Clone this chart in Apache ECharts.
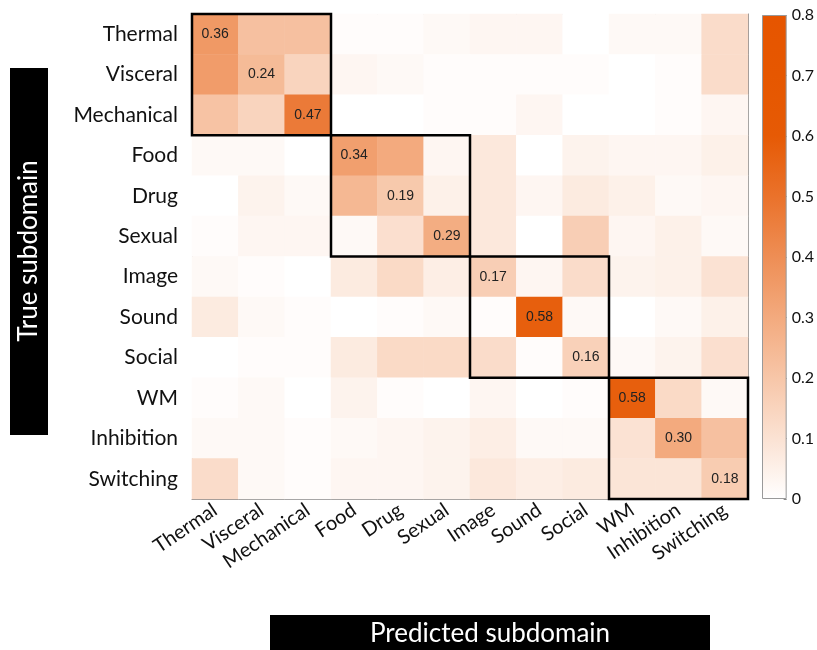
<!DOCTYPE html>
<html>
<head>
<meta charset="utf-8">
<script src="https://cdn.jsdelivr.net/npm/echarts@6/dist/echarts.min.js"></script>
<style>
  html, body { margin: 0; padding: 0; background: #fff; }
  #main { width: 817px; height: 650px; }
</style>
</head>
<body>
<div id="main"></div>
<script>
var subdomains = ['Thermal', 'Visceral', 'Mechanical', 'Food', 'Drug', 'Sexual',
  'Image', 'Sound', 'Social', 'WM', 'Inhibition', 'Switching'];

// rows = true subdomain, columns = predicted subdomain
var confusion = [
  [0.36, 0.22, 0.22, 0.01, 0.01, 0.02, 0.03, 0.03, 0.00, 0.02, 0.02, 0.12],
  [0.35, 0.24, 0.15, 0.03, 0.02, 0.01, 0.01, 0.01, 0.01, 0.00, 0.01, 0.12],
  [0.21, 0.15, 0.47, 0.00, 0.00, 0.01, 0.01, 0.03, 0.00, 0.00, 0.01, 0.03],
  [0.02, 0.02, 0.00, 0.34, 0.30, 0.03, 0.08, 0.00, 0.04, 0.03, 0.03, 0.05],
  [0.00, 0.04, 0.02, 0.25, 0.19, 0.05, 0.08, 0.03, 0.07, 0.05, 0.02, 0.03],
  [0.01, 0.03, 0.03, 0.02, 0.11, 0.29, 0.08, 0.00, 0.17, 0.03, 0.05, 0.02],
  [0.02, 0.01, 0.00, 0.07, 0.13, 0.06, 0.17, 0.03, 0.12, 0.04, 0.05, 0.10],
  [0.07, 0.02, 0.01, 0.00, 0.01, 0.02, 0.01, 0.58, 0.02, 0.00, 0.02, 0.05],
  [0.00, 0.01, 0.01, 0.07, 0.13, 0.13, 0.12, 0.01, 0.16, 0.02, 0.04, 0.11],
  [0.01, 0.02, 0.00, 0.04, 0.01, 0.00, 0.03, 0.00, 0.01, 0.58, 0.13, 0.02],
  [0.02, 0.02, 0.01, 0.02, 0.03, 0.04, 0.06, 0.02, 0.02, 0.10, 0.30, 0.22],
  [0.12, 0.02, 0.01, 0.03, 0.03, 0.04, 0.08, 0.06, 0.07, 0.09, 0.09, 0.18]
];

// diagonal domain blocks: [first index, last index]
var blocks = [[0, 2], [3, 5], [6, 8], [9, 11]];

var scaleTicks = [0, 0.1, 0.2, 0.3, 0.4, 0.5, 0.6, 0.7, 0.8];
var scaleColors = ['#ffffff', '#fbe2d3', '#f7c6a8', '#f3aa7e', '#ee8e55',
  '#ea722b', '#e65a05', '#e65700', '#e65500'];

var cells = [];
for (var i = 0; i < confusion.length; i++) {
  for (var j = 0; j < confusion[i].length; j++) {
    cells.push({ value: [j, i, confusion[i][j]], label: { show: i === j } });
  }
}

var gradStops = scaleColors.map(function (c, k) {
  return { offset: 1 - k / (scaleColors.length - 1), color: c };
});

var chart = echarts.init(document.getElementById('main'));

var boxColor = '#8a8a8a';
var option = {
  animation: false,
  grid: [
    { left: 192, right: 69, top: 14, bottom: 151 },
    { left: 762, width: 31, top: 15, bottom: 151 }
  ],
  xAxis: [
    {
      type: 'category', data: subdomains, gridIndex: 0, position: 'bottom',
      axisLine: { lineStyle: { color: boxColor } },
      axisTick: { inside: true, alignWithLabel: true, length: 4, lineStyle: { color: '#555' } },
      axisLabel: { rotate: 34, margin: 9, fontFamily: 'Lato', fontSize: 20, color: '#111', interval: 0 },
      splitLine: { show: false }
    },
    {
      type: 'category', data: subdomains, gridIndex: 0, position: 'top',
      axisLine: { lineStyle: { color: boxColor } },
      axisTick: { inside: true, alignWithLabel: true, length: 4, lineStyle: { color: '#555' } },
      axisLabel: { show: false }
    },
    {
      type: 'category', data: ['scale'], gridIndex: 1, show: false
    }
  ],
  yAxis: [
    {
      type: 'category', data: subdomains, gridIndex: 0, inverse: true, position: 'left',
      axisLine: { lineStyle: { color: boxColor } },
      axisTick: { inside: true, alignWithLabel: true, length: 4, lineStyle: { color: '#555' } },
      axisLabel: { margin: 14, fontFamily: 'Lato', fontSize: 21, color: '#111', interval: 0 }
    },
    {
      type: 'category', data: subdomains, gridIndex: 0, inverse: true, position: 'right',
      axisLine: { lineStyle: { color: boxColor } },
      axisTick: { inside: true, alignWithLabel: true, length: 4, lineStyle: { color: '#555' } },
      axisLabel: { show: false }
    },
    {
      type: 'value', gridIndex: 1, position: 'right', min: 0, max: 0.8, interval: 0.1,
      axisLine: { show: false },
      axisTick: { show: true, inside: true, length: 3, lineStyle: { color: '#888' } },
      splitLine: { show: false },
      axisLabel: {
        margin: 5, fontFamily: 'Lato', fontSize: 16, color: '#111',
        formatter: function (v) { return v === 0 ? '0' : v.toFixed(1); }
      }
    }
  ],
  visualMap: {
    show: false, seriesIndex: 0, min: 0, max: 0.8, dimension: 2,
    inRange: { color: scaleColors }
  },
  series: [
    {
      type: 'heatmap', xAxisIndex: 0, yAxisIndex: 0, data: cells,
      label: {
        fontFamily: 'Liberation Sans', fontSize: 14, color: '#222',
        formatter: function (p) { return p.value[2].toFixed(2); }
      },
      emphasis: { disabled: true }
    },
    {
      type: 'custom', xAxisIndex: 0, yAxisIndex: 0, data: blocks, z: 5,
      encode: { x: 0, y: 1 },
      renderItem: function (params, api) {
        var s = api.value(0), e = api.value(1);
        var p0 = api.coord([s, s]);
        var p1 = api.coord([e, e]);
        var sz = api.size([1, 1]);
        return {
          type: 'rect',
          shape: {
            x: p0[0] - sz[0] / 2, y: p0[1] - sz[1] / 2,
            width: p1[0] - p0[0] + sz[0], height: p1[1] - p0[1] + sz[1]
          },
          style: { fill: 'none', stroke: '#000', lineWidth: 2.5 }
        };
      }
    },
    {
      type: 'bar', xAxisIndex: 2, yAxisIndex: 2, data: [scaleTicks[scaleTicks.length - 1]],
      barWidth: '100%', silent: true,
      itemStyle: {
        color: new echarts.graphic.LinearGradient(0, 0, 0, 1, gradStops),
        borderColor: '#999', borderWidth: 1
      }
    }
  ],
  graphic: [
    { type: 'rect', left: 10, top: 68, shape: { width: 38, height: 367 }, style: { fill: '#000' } },
    {
      type: 'text', x: 29, y: 251, rotation: Math.PI / 2,
      style: { text: 'True subdomain', fill: '#fff', font: '26px Lato', align: 'center', verticalAlign: 'middle' }
    },
    { type: 'rect', left: 270, top: 615, shape: { width: 440, height: 40 }, style: { fill: '#000' } },
    {
      type: 'text', x: 490, y: 634,
      style: { text: 'Predicted subdomain', fill: '#fff', font: '26px Lato', align: 'center', verticalAlign: 'middle' }
    }
  ]
};

chart.setOption(option);
</script>
</body>
</html>
